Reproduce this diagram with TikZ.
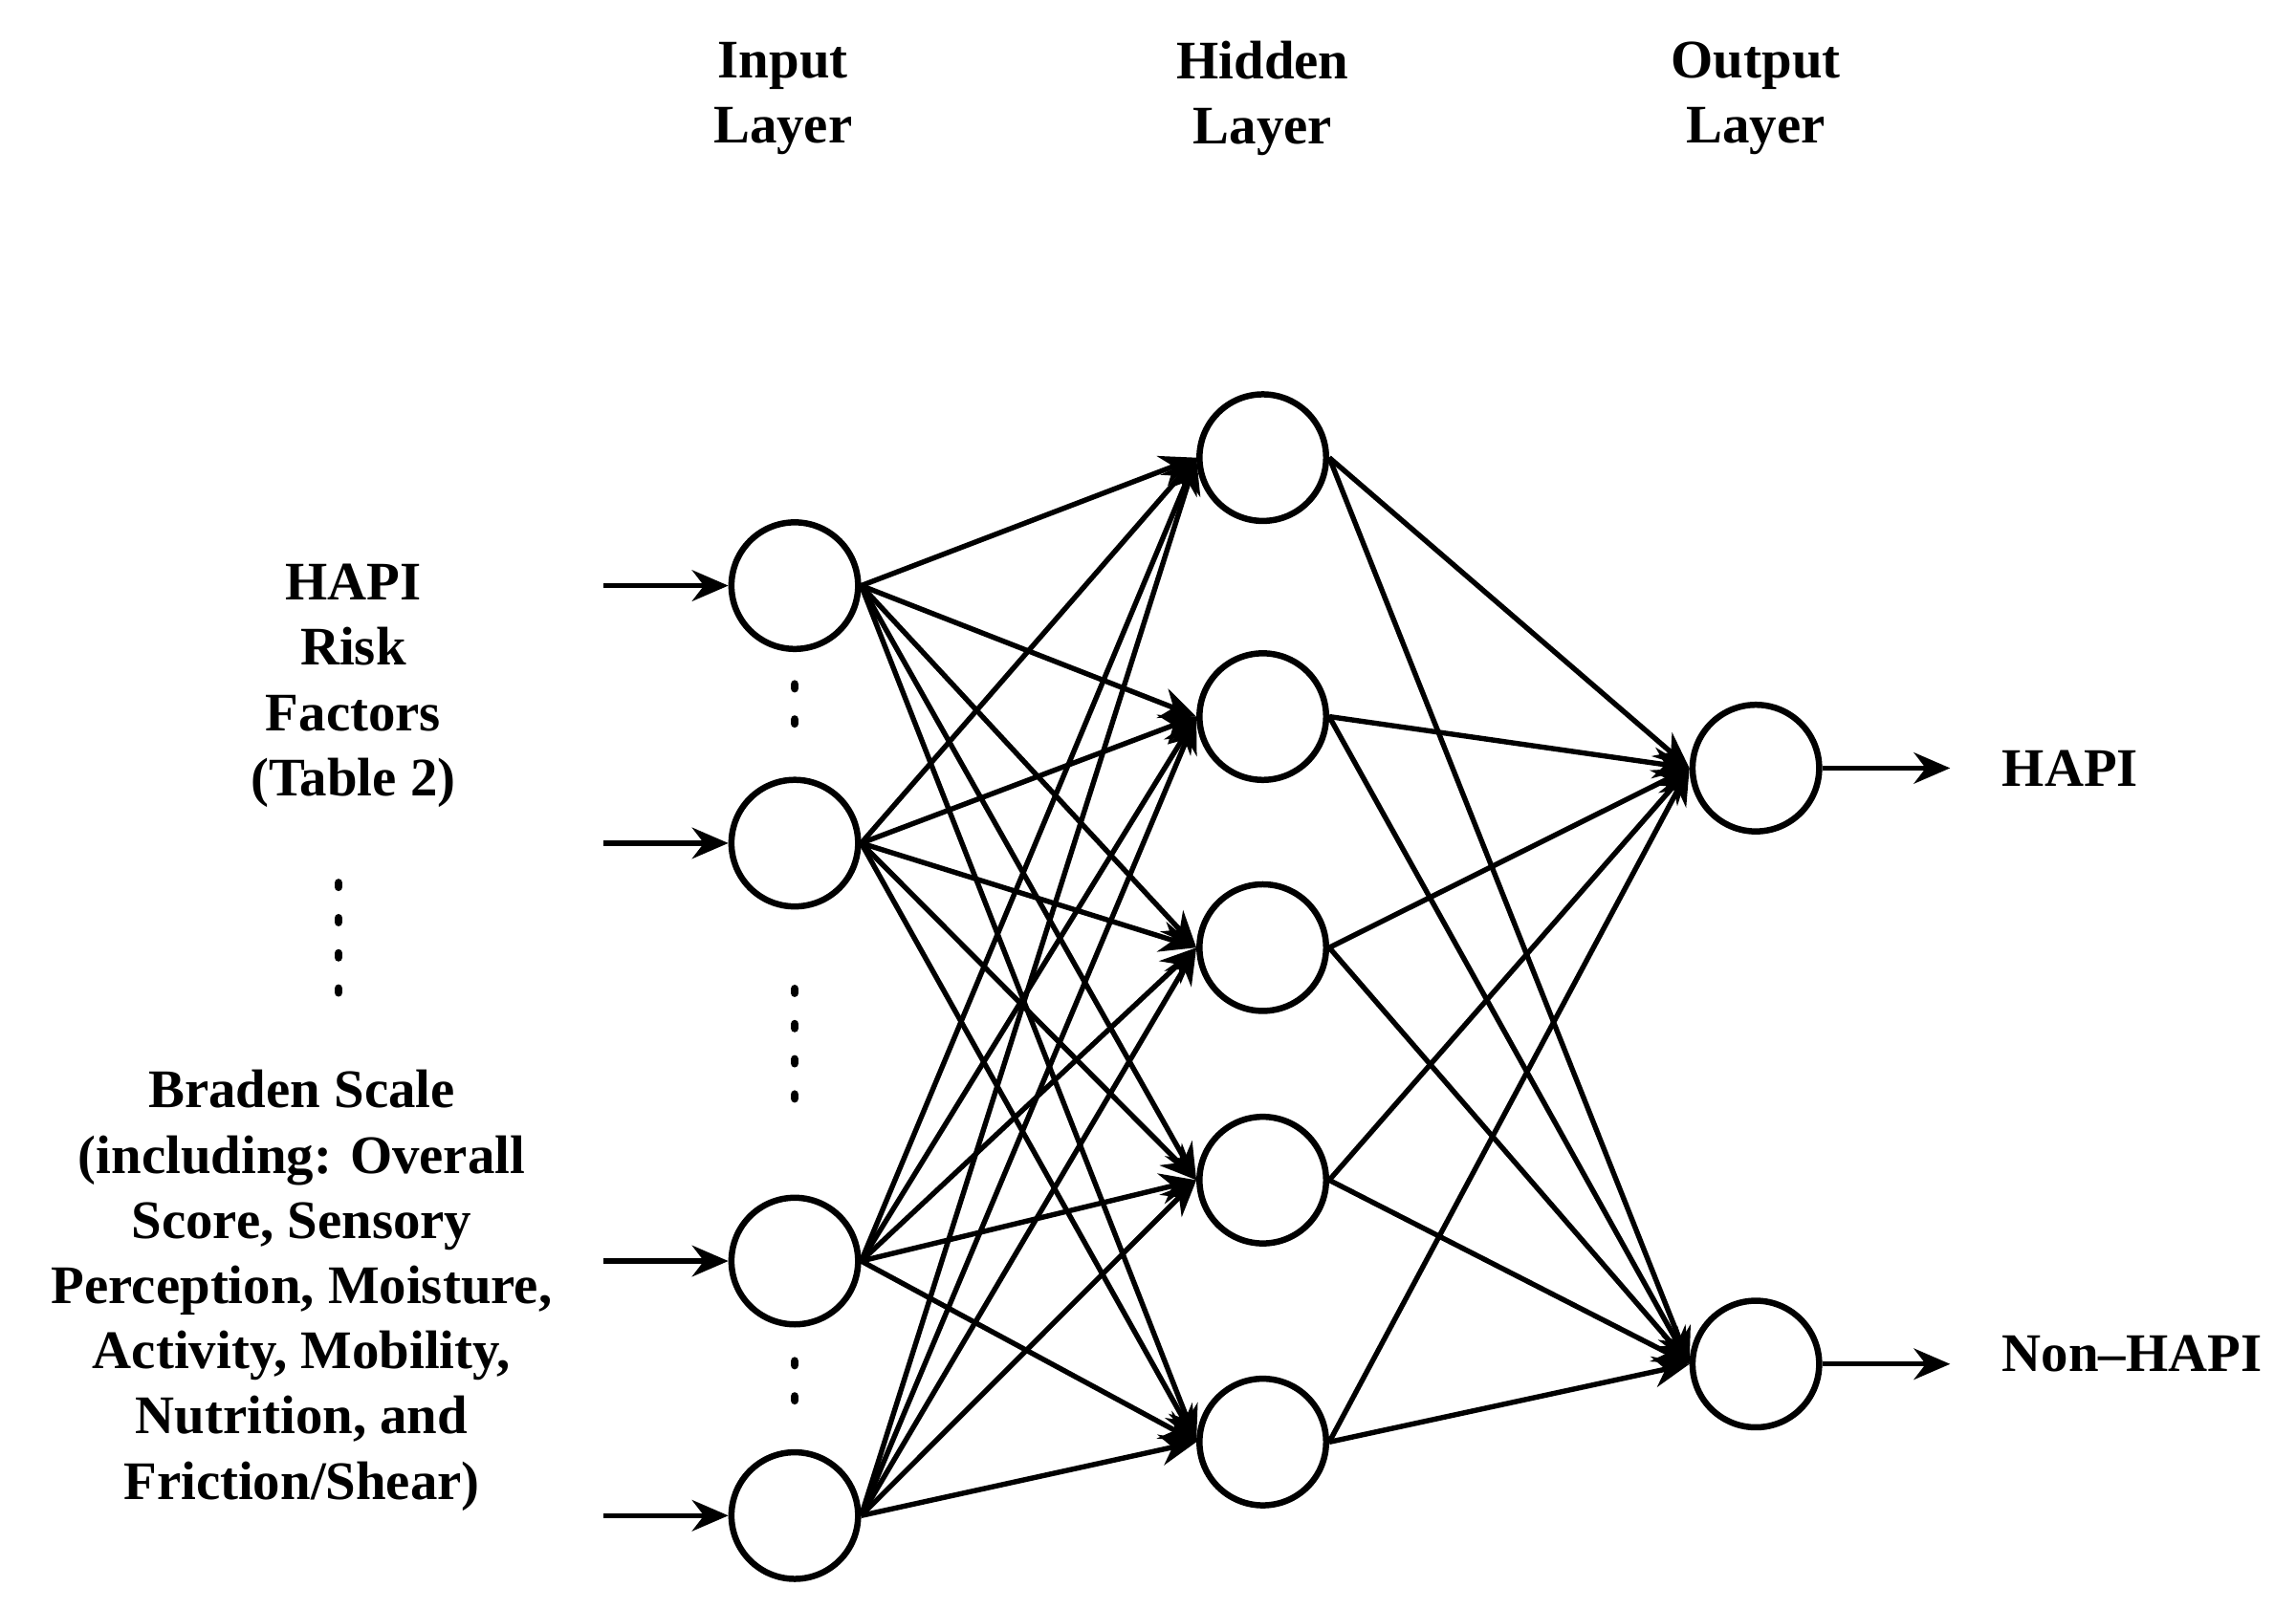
\documentclass[tikz,border=0pt]{standalone}
\usepackage{fontspec}
\setmainfont{Liberation Serif}
\usetikzlibrary{arrows.meta}
\begin{document}
\begin{tikzpicture}[x=0.01cm,y=-0.01cm,
  neuron/.style={circle,draw,line width=1.2pt,minimum size=0.86cm,inner sep=0pt},
  conn/.style={line width=1pt,-{Stealth[length=7pt,width=6pt]}},
  lbl/.style={font=\fontsize{10.5pt}{12.6pt}\selectfont\bfseries,align=center},
  dots/.style={line width=1.6pt,dash pattern=on 0.8pt off 6pt,line cap=round}]
\useasboundingbox (0,0) rectangle (1560,1093);
\foreach \n/\y in {1/398,2/573,3/857,4/1030} \node[neuron] (i\n) at (540,\y) {};
\foreach \n/\y in {1/311,2/487,3/644,4/802,5/980} \node[neuron] (h\n) at (858,\y) {};
\foreach \n/\y in {1/522,2/927} \node[neuron] (o\n) at (1193,\y) {};
\foreach \n/\y in {1/398,2/573,3/857,4/1030} {\coordinate (s\n) at (410,\y); \draw[conn] (s\n) -- (i\n);}
\coordinate (e1) at (1325,522); \coordinate (e2) at (1325,927);
\draw[conn] (o1) -- (e1); \draw[conn] (o2) -- (e2);
\foreach \i in {1,...,4} \foreach \h in {1,...,5} \draw[conn] (i\i.east) -- (h\h.west);
\foreach \h in {1,...,5} \foreach \o in {1,2} \draw[conn] (h\h.east) -- (o\o.west);
\node[lbl] (tin) at (532,67) {Input\\Layer};
\node[lbl] (thid) at (858,67) {Hidden\\Layer};
\node[lbl] (tout) at (1193,67) {Output\\Layer};
\node[lbl,anchor=west] (thapi) at (1348,522) {HAPI};
\node[lbl,anchor=west] (tnon) at (1348,920) {Non–HAPI};
\node[lbl] (trisk) at (240,466) {HAPI\\Risk\\Factors\\(Table 2)};
\node[lbl] (tbr) at (205,877) {Braden Scale\\(including: Overall\\Score, Sensory\\Perception, Moisture,\\Activity, Mobility,\\Nutrition, and\\Friction/Shear)};
\coordinate (d1a) at (540,465); \coordinate (d1b) at (540,510);
\coordinate (d2a) at (540,672); \coordinate (d2b) at (540,752);
\coordinate (d3a) at (540,925); \coordinate (d3b) at (540,970);
\coordinate (d4a) at (230,600); \coordinate (d4b) at (230,682);
\foreach \d in {1,...,4} \draw[dots] (d\d a) -- (d\d b);
\end{tikzpicture}
\end{document}
